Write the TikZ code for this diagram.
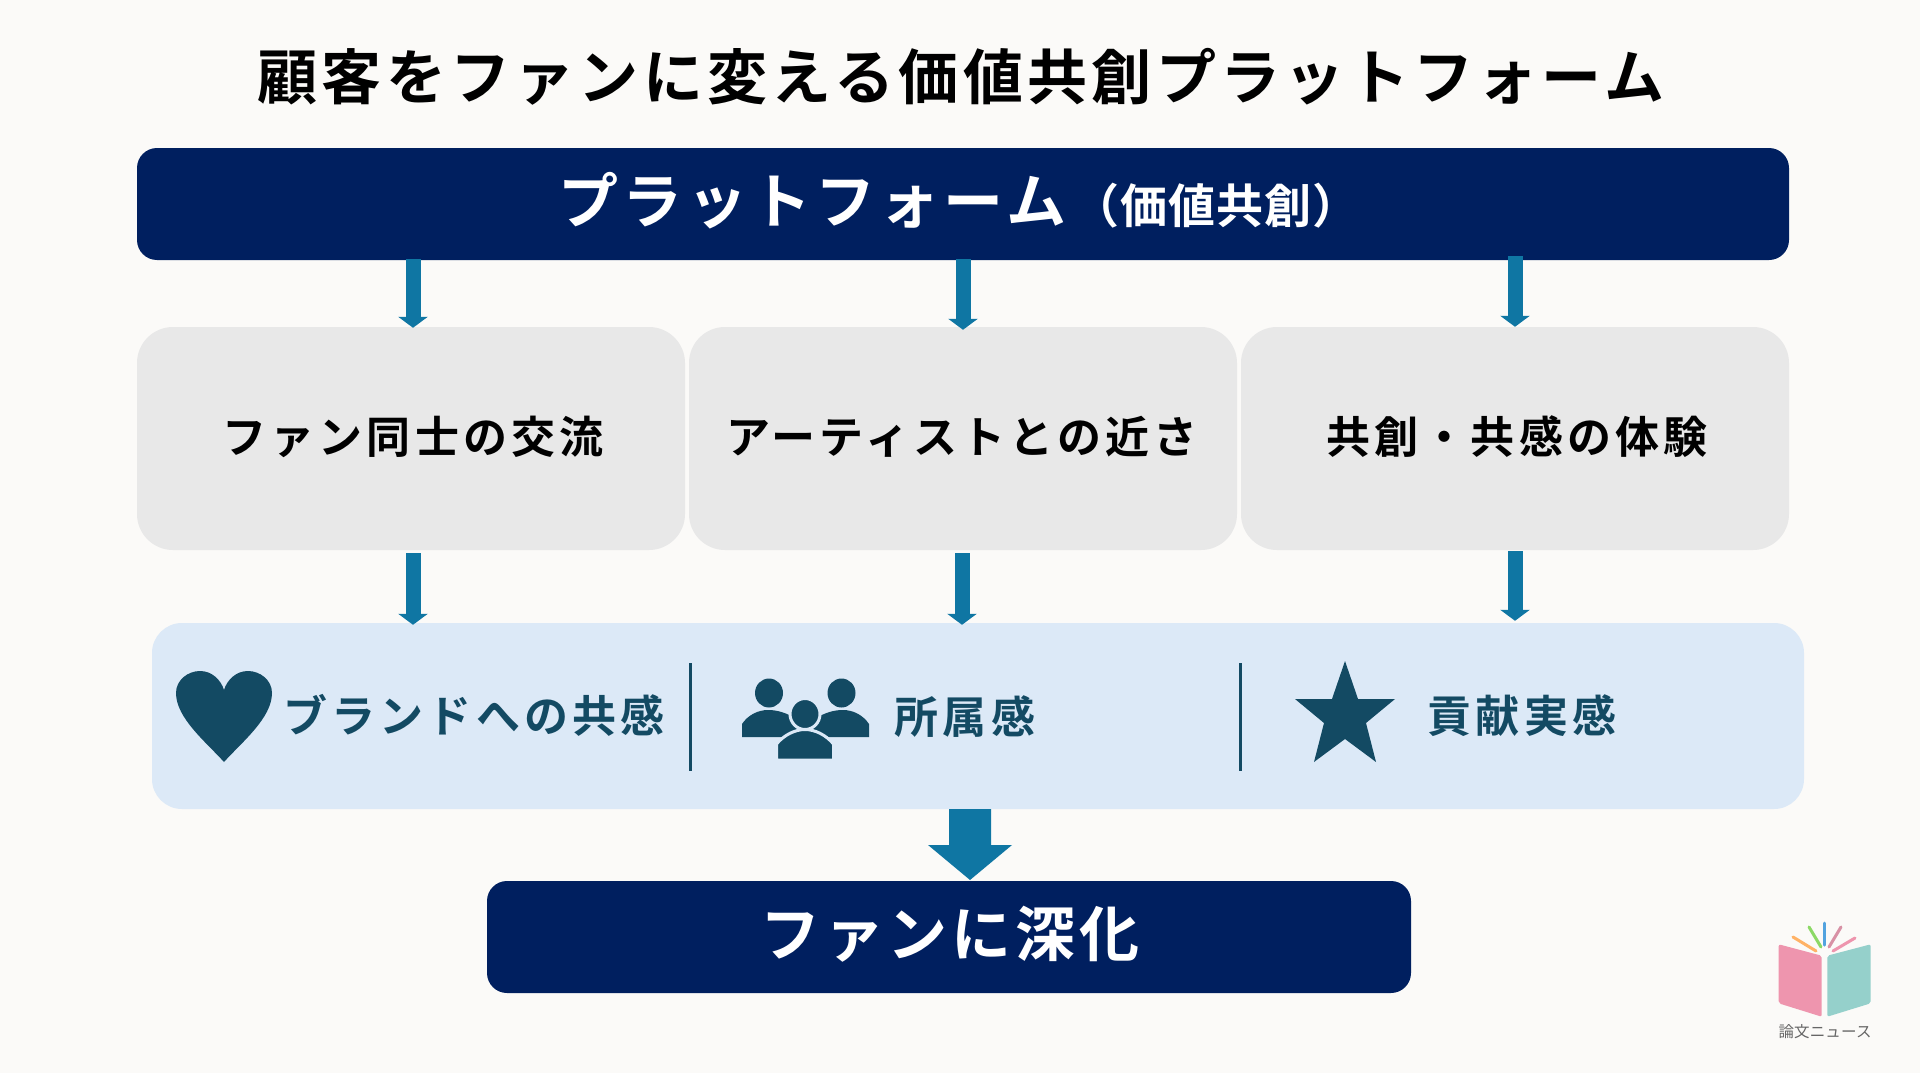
\documentclass[tikz,border=0pt]{standalone}
\usepackage{fontspec}
\usetikzlibrary{arrows.meta,calc}
\newfontfamily\jpf[BoldFont=Noto Sans CJK JP Bold]{Noto Sans CJK JP}
\newcommand{\jt}[3]{{\jpf\bfseries\fontsize{#1}{#1}\selectfont\addfontfeature{LetterSpace=#2}#3}}
\definecolor{bgc}{HTML}{FBFAF8}
\definecolor{navyc}{HTML}{001F5F}
\definecolor{grayc}{HTML}{E8E8E8}
\definecolor{bandc}{HTML}{DCE9F7}
\definecolor{inkc}{HTML}{134A63}
\definecolor{arrc}{HTML}{0F76A3}
\definecolor{lpink}{HTML}{EE95AE}
\definecolor{lteal}{HTML}{95D0CB}
\tikzset{
  x=1pt,y=-1pt,
  navybox/.style={fill=navyc,rounded corners=20pt,inner sep=0pt},
  midbox/.style={fill=grayc,rounded corners=36pt,inner sep=0pt,minimum width=548pt,minimum height=223pt},
  bandbox/.style={fill=bandc,rounded corners=30pt,inner sep=0pt},
  txt/.style={inner sep=0pt,anchor=center},
  flow/.style={draw=arrc,line width=15pt,-{Triangle[width=29pt,length=11pt]}},
  divider/.style={draw=inkc,line width=2.5pt},
  ray/.style={line width=3pt,line cap=round},
}
\begin{document}
\begin{tikzpicture}
\useasboundingbox (0,0) rectangle (1920,1073);
\fill[bgc] (0,0) rectangle (1920,1073);
% title
\node[txt] (title) at (961,77) {\jt{60}{7.2}{顧客をファンに変える価値共創プラットフォーム}};
% boxes
\node[navybox,minimum width=1652pt,minimum height=112pt] (top) at (963,204) {};
\node[txt,white] (toptext) at (959,201) {\jt{60}{7}{プラットフォーム}\hspace{6pt}\jt{47}{2}{（価値共創）}};
\node[midbox] (m1) at (411,438.5) {};
\node[midbox] (m2) at (963,438.5) {};
\node[midbox] (m3) at (1515,438.5) {};
\node[txt] (t1) at (413,437) {\jt{44}{9.5}{ファン同士の交流}};
\node[txt] (t2) at (962,437) {\jt{44}{9.5}{アーティストとの近さ}};
\node[txt] (t3) at (1517,437) {\jt{44}{9.5}{共創・共感の体験}};
\node[bandbox,minimum width=1652pt,minimum height=186pt] (band) at (978,716) {};
\node[navybox,minimum width=924pt,minimum height=112pt] (bottom) at (949,937) {};
\node[txt,white] (bt) at (950,934) {\jt{60}{6.5}{ファンに深化}};
% benefit texts
\node[txt,text=inkc] (b1) at (474,715) {\jt{44}{9.5}{ブランドへの共感}};
\node[txt,text=inkc] (b2) at (965,717) {\jt{44}{9.5}{所属感}};
\node[txt,text=inkc] (b3) at (1522,716) {\jt{44}{9.5}{貢献実感}};
% connector ends, taken from the boxes
\coordinate (a1s) at ($(top.south -| m1.north)+(2,-1)$);
\coordinate (a1e) at ($(m1.north)+(2,1)$);
\coordinate (a2s) at ($(top.south -| m2.north)+(0,-1)$);
\coordinate (a2e) at ($(m2.north)+(0,3)$);
\coordinate (a3s) at ($(top.south -| m3.north)+(0,-4)$);
\coordinate (a3e) at ($(m3.north)+(0,0)$);
\coordinate (c1s) at ($(m1.south)+(2,3)$);
\coordinate (c1e) at ($(band.north -| m1.south)+(2,2)$);
\coordinate (c2s) at ($(m2.south)+(-1,3)$);
\coordinate (c2e) at ($(band.north -| m2.south)+(-1,2)$);
\coordinate (c3s) at ($(m3.south)+(0,1)$);
\coordinate (c3e) at ($(band.north -| m3.south)+(0,-2)$);
% connectors
\draw[flow] (a1s) -- (a1e);
\draw[flow] (a2s) -- (a2e);
\draw[flow] (a3s) -- (a3e);
\draw[flow] (c1s) -- (c1e);
\draw[flow] (c2s) -- (c2e);
\draw[flow] (c3s) -- (c3e);
\fill[arrc] (949,809) -- (991,809) -- (991,845) -- (1012,845) -- (970,880) -- (928,845) -- (949,845) -- cycle;
% dividers
\draw[divider] (690.5,663) -- (690.5,771);
\draw[divider] (1240.5,663) -- (1240.5,771);
% heart
\fill[inkc] (224,762) .. controls (206,742) and (176,718) .. (176,693)
  .. controls (176,680) and (188,671) .. (200,671)
  .. controls (212,671) and (221,680) .. (224,690)
  .. controls (227,680) and (236,671) .. (248,671)
  .. controls (260,671) and (272,680) .. (272,693)
  .. controls (272,718) and (242,742) .. (224,762) -- cycle;
% people
\fill[inkc] (769,693) ellipse [x radius=14,y radius=14.5];
\fill[inkc] (841.5,693) ellipse [x radius=14,y radius=14.5];
\fill[inkc] (742,737) -- (742,724) .. controls (748,715) and (758,710) .. (768,710) .. controls (778,710) and (786,713) .. (795,718) -- (800,737) -- cycle;
\fill[inkc] (869,737) -- (869,724) .. controls (863,715) and (853,710) .. (843,710) .. controls (833,710) and (825,713) .. (816,718) -- (811,737) -- cycle;
\draw[bandc,fill=inkc,line width=3pt] (805,714) ellipse [x radius=15,y radius=15.5];
\draw[bandc,fill=inkc,line width=3pt] (776.5,760) -- (776.5,744) .. controls (784,735) and (795,729.5) .. (805,729.5) .. controls (815,729.5) and (826,735) .. (833.5,744) -- (833.5,760) -- cycle;
\fill[bandc] (770,758.5) rectangle (840,763);
% star
\fill[inkc] (1345,661) -- (1358,699) -- (1395,699) -- (1366,723) -- (1376,762) -- (1345,739) -- (1314,762) -- (1324,723) -- (1295,699) -- (1332,699) -- cycle;
% logo
\fill[lpink,rounded corners=2pt] (1778.7,944.3) -- (1821.7,955.7) -- (1821.7,1016.7) -- (1778.7,1003.3) -- cycle;
\fill[lteal,rounded corners=2pt] (1827.3,955.7) -- (1870.7,944.3) -- (1870.7,1003.3) -- (1827.3,1016.7) -- cycle;
\draw[ray,color=orange!60] (1793,937) -- (1816,951);
\draw[ray,color=green!50!olive!60] (1809,927) -- (1821,947);
\draw[ray,color=cyan!70!blue!70] (1824.5,923) -- (1824.5,945);
\draw[ray,color=lpink!80!gray] (1841,927) -- (1829,947);
\draw[ray,color=lpink] (1855,938) -- (1833,951);
\node[txt,text=black!60] (logo) at (1825,1032) {{\jpf\fontsize{15.5}{16}\selectfont\addfontfeature{LetterSpace=1} 論文ニュース}};
\end{tikzpicture}
\end{document}
